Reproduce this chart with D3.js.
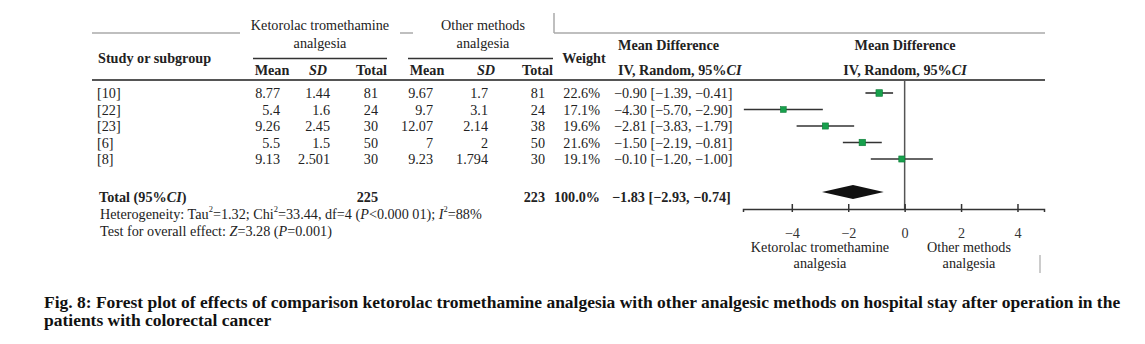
<!DOCTYPE html>
<html><head><meta charset="utf-8">
<script src="https://cdn.jsdelivr.net/npm/d3@7"></script>
<style>
html,body{margin:0;padding:0;background:#fff;}
svg text{font-family:'Liberation Serif','Times New Roman',Times,serif;}
</style></head>
<body><svg id="c" width="1145" height="344"></svg>
<script>
// ---- data ----
const studies = ["[10]", "[22]", "[23]", "[6]", "[8]"];
const ketMean = ["8.77", "5.4", "9.26", "5.5", "9.13"];
const ketSD = ["1.44", "1.6", "2.45", "1.5", "2.501"];
const ketTotal = [81, 24, 30, 50, 30];
const othMean = ["9.67", "9.7", "12.07", "7", "9.23"];
const othSD = ["1.7", "3.1", "2.14", "2", "1.794"];
const othTotal = [81, 24, 38, 50, 30];
const weights = [22.6, 17.1, 19.6, 21.6, 19.1];
const md = [-0.90, -4.30, -2.81, -1.50, -0.10];
const ciLow = [-1.39, -5.70, -3.83, -2.19, -1.20];
const ciHigh = [-0.41, -2.90, -1.79, -0.81, 1.00];
const ciLabels = ["\u22120.90 [\u22121.39, \u22120.41]", "\u22124.30 [\u22125.70, \u22122.90]",
  "\u22122.81 [\u22123.83, \u22121.79]", "\u22121.50 [\u22122.19, \u22120.81]", "\u22120.10 [\u22121.20, \u22121.00]"];
const totalKet = 225, totalOth = 223;
const totalMD = -1.83, totalLow = -2.93, totalHigh = -0.74;
const totalLabel = "\u22121.83 [\u22122.93, \u22120.74]";
const tickValues = [-4, -2, 0, 2, 4];
const tickLabels = ["\u22124", "\u22122", "0", "2", "4"];

// ---- layout ----
const FONT = "Liberation Serif";
const FS = 14.2;
const svg = d3.select("#c");
const ink = "#222";
const x = d3.scaleLinear().domain([-5.73, 4.94]).range([743, 1044]);
const rowY = d3.scalePoint().domain(studies).range([93, 159]);
const sq = d3.scaleSqrt().domain([0, 22.6]).range([0, 6.6]);
const axisY = 209;

function txt(xp, yp, s, o = {}) {
  return svg.append("text").attr("x", xp).attr("y", yp)
    .attr("font-family", FONT)
    .attr("dominant-baseline", "central")
    .attr("text-anchor", o.anchor || "start")
    .attr("font-size", o.size || FS)
    .attr("font-weight", o.bold ? "bold" : "normal")
    .attr("font-style", o.italic ? "italic" : "normal")
    .attr("fill", o.fill || ink).text(s);
}
function line(x1, y1, x2, y2, col, w) {
  svg.append("line").attr("x1", x1).attr("y1", y1).attr("x2", x2).attr("y2", y2)
    .attr("stroke", col).attr("stroke-width", w);
}

// header lines
line(92, 33, 240, 33, "#aaa", 1.5);
line(400, 33, 413, 33, "#aaa", 1.5);
line(554, 13, 554, 33, "#aaa", 1.5);
line(554, 33, 1045, 33, "#aaa", 1.5);
line(253, 58.5, 387, 58.5, "#333", 1.3);
line(408, 58.5, 553, 58.5, "#333", 1.3);
line(92, 80, 1045, 80, "#555", 2);

// header text
txt(320, 25, "Ketorolac tromethamine", {anchor: "middle"});
txt(320, 43, "analgesia", {anchor: "middle"});
txt(483, 25, "Other methods", {anchor: "middle"});
txt(483, 43, "analgesia", {anchor: "middle"});
txt(98, 58, "Study or subgroup", {bold: true});
txt(272, 70, "Mean", {anchor: "middle", bold: true});
txt(318, 70, "SD", {anchor: "middle", bold: true, italic: true});
txt(387, 70, "Total", {anchor: "end", bold: true});
txt(427, 70, "Mean", {anchor: "middle", bold: true});
txt(486, 70, "SD", {anchor: "middle", bold: true, italic: true});
txt(553, 70, "Total", {anchor: "end", bold: true});
txt(584, 58, "Weight", {anchor: "middle", bold: true});
txt(618, 45, "Mean Difference", {bold: true});
const h1 = txt(618, 70, "IV, Random, 95%", {bold: true});
h1.append("tspan").attr("font-style", "italic").text("CI");
txt(905, 45, "Mean Difference", {anchor: "middle", bold: true});
const h2 = txt(905, 70, "IV, Random, 95%", {anchor: "middle", bold: true});
h2.append("tspan").attr("font-style", "italic").text("CI");

// rows
studies.forEach((s, i) => {
  const y = rowY(s);
  txt(97, y, s);
  txt(280, y, ketMean[i], {anchor: "end"});
  txt(330, y, ketSD[i], {anchor: "end"});
  txt(378, y, ketTotal[i], {anchor: "end"});
  txt(433, y, othMean[i], {anchor: "end"});
  txt(488, y, othSD[i], {anchor: "end"});
  txt(545, y, othTotal[i], {anchor: "end"});
  txt(600, y, weights[i].toFixed(1) + "%", {anchor: "end"});
  txt(614, y, ciLabels[i]);
});

// zero line
line(x(0), 80, x(0), axisY, "#555", 1.5);

// CIs and squares
const g = svg.append("g");
g.selectAll("line.ci").data(studies).join("line")
  .attr("x1", (d, i) => x(ciLow[i])).attr("x2", (d, i) => x(ciHigh[i]))
  .attr("y1", d => rowY(d)).attr("y2", d => rowY(d))
  .attr("stroke", "#333").attr("stroke-width", 1.6);
g.selectAll("rect").data(studies).join("rect")
  .attr("x", (d, i) => x(md[i]) - sq(weights[i]) / 2)
  .attr("y", (d, i) => rowY(d) - sq(weights[i]) / 2)
  .attr("width", (d, i) => sq(weights[i]))
  .attr("height", (d, i) => sq(weights[i]))
  .attr("fill", "#17a04c").attr("stroke", "#0d7a36").attr("stroke-width", 0.6);

// total row
const ty = 197;
const tt = txt(99, ty, "Total (95%", {bold: true});
tt.append("tspan").attr("font-style", "italic").text("CI");
tt.append("tspan").text(")");
txt(378, ty, totalKet, {anchor: "end", bold: true});
txt(545, ty, totalOth, {anchor: "end", bold: true});
txt(600, ty, "100.0%", {anchor: "end", bold: true});
txt(612, ty, totalLabel, {bold: true});
svg.append("path")
  .attr("d", `M${x(totalLow)},${192}L${x(totalMD)},${185}L${x(totalHigh)},${192}L${x(totalMD)},${199}Z`)
  .attr("fill", "#111");

// heterogeneity
const het = txt(100, 214, "Heterogeneity: Tau", {});
het.append("tspan").attr("font-size", 8.5).attr("dy", -5).text("2");
het.append("tspan").attr("dy", 5).text("=1.32; Chi");
het.append("tspan").attr("font-size", 8.5).attr("dy", -5).text("2");
het.append("tspan").attr("dy", 5).text("=33.44, df=4 (");
het.append("tspan").attr("font-style", "italic").text("P");
het.append("tspan").text("<0.000 01); ");
het.append("tspan").attr("font-style", "italic").text("I");
het.append("tspan").attr("font-size", 8.5).attr("dy", -5).text("2");
het.append("tspan").attr("dy", 5).text("=88%");
const te = txt(100, 231, "Test for overall effect: ", {});
te.append("tspan").attr("font-style", "italic").text("Z");
te.append("tspan").text("=3.28 (");
te.append("tspan").attr("font-style", "italic").text("P");
te.append("tspan").text("=0.001)");

// axis
const ax = svg.append("g").attr("transform", `translate(0,${axisY})`)
  .call(d3.axisBottom(x).tickValues(tickValues).tickSize(3).tickFormat((d, i) => tickLabels[i]));
ax.attr("font-family", FONT);
ax.select(".domain").attr("stroke", "#333").attr("stroke-width", 1.5);
ax.selectAll(".tick line").attr("stroke", "#333").attr("stroke-width", 1.5).attr("y1", -5);
ax.selectAll(".tick text").attr("font-family", FONT).attr("font-size", FS)
  .attr("fill", "#333").attr("dy", 0).attr("y", 24).attr("dominant-baseline", "central");

txt(820, 247, "Ketorolac tromethamine", {anchor: "middle"});
txt(820, 263, "analgesia", {anchor: "middle"});
txt(969, 247, "Other methods", {anchor: "middle"});
txt(969, 263, "analgesia", {anchor: "middle"});
line(1040, 255, 1040, 273, "#999", 1);

// caption (condensed bold serif)
const cap1 = svg.append("text").attr("x", 0).attr("y", 0).attr("font-family", FONT)
  .attr("font-size", 17).attr("font-weight", "bold").attr("fill", "#111")
  .text("Fig. 8: Forest plot of effects of comparison ketorolac tromethamine analgesia with other analgesic methods on hospital stay after operation in the");
const sx = 1077 / cap1.node().getComputedTextLength();
cap1.attr("transform", `translate(44,308) scale(${sx},1)`);
svg.append("text").attr("x", 0).attr("y", 0).attr("font-family", FONT)
  .attr("font-size", 17).attr("font-weight", "bold").attr("fill", "#111")
  .attr("transform", `translate(44,326) scale(${sx},1)`)
  .text("patients with colorectal cancer");
</script></body></html>
